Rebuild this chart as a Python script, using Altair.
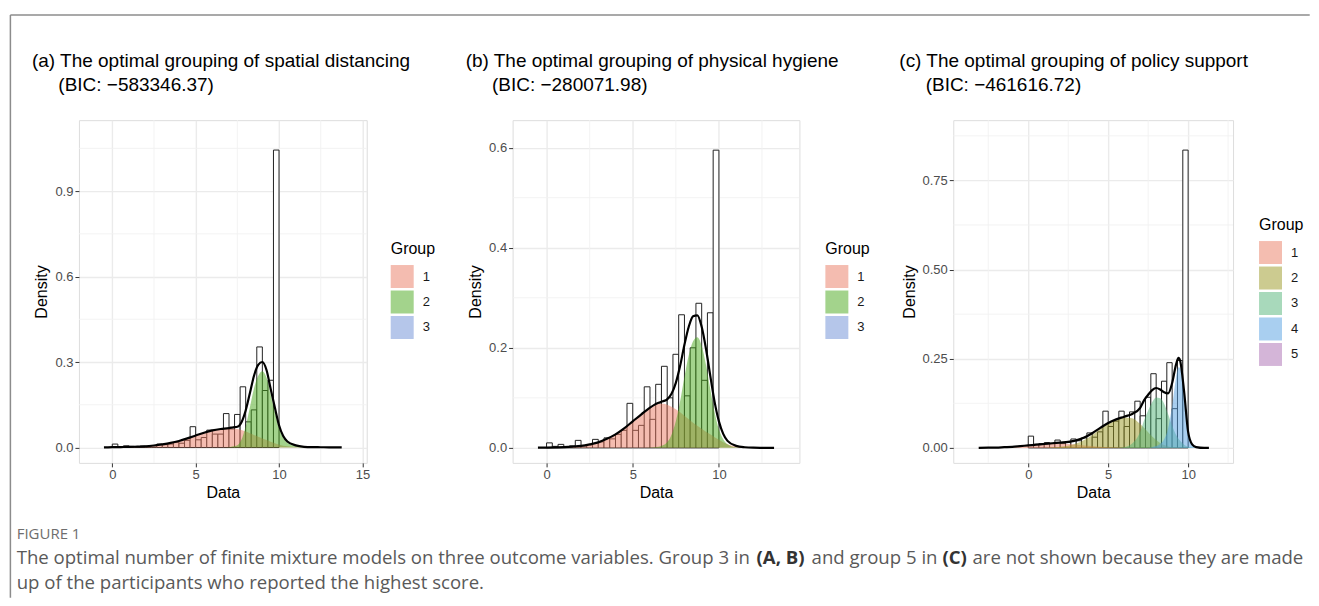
import altair as alt
import pandas as pd

FONT = "Liberation Sans"
CAP_FONT = "Open Sans"

# histogram bins: 30 bins of width 1/3 on [0, 10]
BIN_EDGES = [i / 3 for i in range(31)]

HIST_A = [0.012, 0.003, 0.006, 0.004, 0.003, 0.005, 0.004, 0.006, 0.012, 0.010,
          0.012, 0.018, 0.015, 0.025, 0.073, 0.027, 0.035, 0.061, 0.047, 0.047,
          0.119, 0.065, 0.116, 0.213, 0.090, 0.132, 0.353, 0.200, 0.236, 1.044]
HIST_B = [0.010, 0.003, 0.007, 0.002, 0.004, 0.015, 0.004, 0.006, 0.017, 0.012,
          0.020, 0.018, 0.027, 0.035, 0.089, 0.035, 0.045, 0.122, 0.057, 0.127,
          0.163, 0.100, 0.187, 0.266, 0.104, 0.200, 0.289, 0.135, 0.270, 0.595]
HIST_C = [0.033, 0.010, 0.012, 0.015, 0.012, 0.022, 0.012, 0.015, 0.025, 0.020,
          0.028, 0.042, 0.030, 0.045, 0.103, 0.060, 0.075, 0.103, 0.060, 0.101,
          0.131, 0.090, 0.142, 0.208, 0.082, 0.187, 0.239, 0.110, 0.245, 0.835]

# component densities
X_A = [-0.5, 0, 0.5, 1, 1.5, 2, 2.5, 3, 3.5, 4, 4.5, 5, 5.5, 6, 6.5, 7, 7.25, 7.5,
       7.75, 8, 8.25, 8.5, 8.75, 9, 9.25, 9.5, 9.75, 10, 10.25, 10.5, 11, 11.5, 12,
       12.5, 13, 13.76]
G1_A = [0.0005, 0.001, 0.0015, 0.002, 0.003, 0.004, 0.007, 0.011, 0.016, 0.023,
        0.032, 0.042, 0.052, 0.060, 0.065, 0.067, 0.067, 0.065, 0.061, 0.056,
        0.050, 0.044, 0.038, 0.032, 0.026, 0.020, 0.015, 0.010, 0.006, 0.004,
        0.0015, 0.0005, 0.0002, 0.0001, 0.0, 0.0]
G2_A = [0, 0, 0, 0, 0, 0, 0, 0, 0, 0, 0, 0, 0, 0, 0,
        0.001, 0.004, 0.008, 0.028, 0.074, 0.140, 0.208, 0.252, 0.268, 0.246,
        0.185, 0.125, 0.068, 0.034, 0.017, 0.006, 0.002, 0.001, 0.0008, 0.0006, 0.0004]

X_B = [-0.5, 0, 0.5, 1, 1.5, 2, 2.5, 3, 3.5, 4, 4.5, 5, 5.5, 6, 6.25, 6.5, 6.75, 7,
       7.25, 7.5, 7.75, 8, 8.25, 8.5, 8.75, 9, 9.25, 9.5, 9.75, 10, 10.25, 10.5, 11,
       11.5, 12, 12.5, 13.2]
G1_B = [0.0003, 0.0006, 0.001, 0.0015, 0.0025, 0.004, 0.007, 0.011, 0.018, 0.027,
        0.039, 0.053, 0.067, 0.080, 0.085, 0.088, 0.088, 0.086, 0.082, 0.077,
        0.071, 0.064, 0.057, 0.050, 0.044, 0.038, 0.032, 0.027, 0.021, 0.016,
        0.011, 0.007, 0.003, 0.001, 0.0003, 0.0001, 0.0]
G2_B = [0, 0, 0, 0, 0, 0, 0, 0, 0, 0, 0, 0, 0, 0.0005,
        0.001, 0.002, 0.005, 0.011, 0.026, 0.053, 0.093, 0.142, 0.185, 0.213,
        0.221, 0.204, 0.166, 0.117, 0.071, 0.037, 0.017, 0.007,
        0.001, 0.0002, 0, 0, 0]

X_C = [-3.1, -2.5, -2, -1.5, -1, -0.5, 0, 0.5, 1, 1.5, 2, 2.5, 3, 3.5, 4, 4.5, 5,
       5.5, 6, 6.5, 7, 7.25, 7.5, 7.75, 8, 8.25, 8.5, 8.75, 9, 9.25, 9.4, 9.5, 9.75,
       10, 10.25, 10.5, 11, 11.3]
G1_C = [0.0003, 0.0006, 0.001, 0.002, 0.003, 0.005, 0.007, 0.009, 0.011, 0.012,
        0.012, 0.011, 0.009, 0.007, 0.005, 0.003, 0.002, 0.001, 0.0005, 0.0002,
        0, 0, 0, 0, 0, 0, 0, 0, 0, 0, 0, 0, 0, 0, 0, 0, 0, 0]
G2_C = [0, 0, 0, 0, 0, 0, 0, 0, 0,
        0.001, 0.003, 0.006, 0.012, 0.022, 0.036, 0.053, 0.068, 0.079, 0.085, 0.083,
        0.067, 0.056, 0.044, 0.032, 0.022, 0.014, 0.008, 0.004, 0.002, 0.001,
        0.0005, 0.0003, 0, 0, 0, 0, 0, 0]
G3_C = [0, 0, 0, 0, 0, 0, 0, 0, 0, 0, 0, 0, 0, 0, 0, 0, 0, 0,
        0.002, 0.012,
        0.045, 0.078, 0.105, 0.128, 0.141, 0.139, 0.124, 0.094, 0.062, 0.036,
        0.026, 0.020, 0.009, 0.003, 0.001, 0.0003, 0, 0]
G4_C = [0, 0, 0, 0, 0, 0, 0, 0, 0, 0, 0, 0, 0, 0, 0, 0, 0, 0, 0, 0, 0, 0, 0,
        0.002, 0.005, 0.011, 0.024, 0.055, 0.118, 0.198,
        0.226, 0.224, 0.148, 0.042, 0.009, 0.002, 0, 0]

GROUPS3 = ["1", "2", "3"]
GROUPS5 = ["1", "2", "3", "4", "5"]
COL3 = ["#E97961", "#47A719", "#6B8DD5"]
COL5 = ["#E97B61", "#999721", "#51B377", "#539FE1", "#A96BB1"]

INDENT = "\u200b" + "\u00a0" * 5
TITLE_A = ["(a) The optimal grouping of spatial distancing", INDENT + "(BIC: \u2212583346.37)"]
TITLE_B = ["(b) The optimal grouping of physical hygiene", INDENT + "(BIC: \u2212280071.98)"]
TITLE_C = ["(c) The optimal grouping of policy support", INDENT + "(BIC: \u2212461616.72)"]

FIG_LABEL = "FIGURE 1"
# caption line 1 as (text, bold) pieces, line 2 plain
CAPTION_1 = [
    ("The optimal number of finite mixture models on three outcome variables. Group 3 in", False),
    ("(A, B)", True),
    ("and group 5 in", False),
    ("(C)", True),
    ("are not shown because they are made", False),
]
CAPTION_1_X = [16, 756.4, 811.5, 942.5, 972.5]
CAPTION_2 = "up of the participants who reported the highest score."
CAP_SIZE = 18.6

MINOR = "#F2F2F2"
AXIS_COMMON = dict(grid=True, gridColor="#EBEBEB", gridWidth=1.4, domain=False,
                   tickColor="#333333", tickSize=4, tickWidth=1,
                   labelFont=FONT, labelFontSize=13, labelColor="#4D4D4D",
                   labelPadding=2, labelFlush=False,
                   titleFont=FONT, titleFontSize=16, titleFontWeight="normal",
                   titleColor="#000000")


def build_panel(title_lines, title_dx, hist, xs, comps, groups, colors,
                xdom, ydom, xticks, yticks, yfmt, xminor, yminor,
                legend_x, legend_y, width, height):
    hist_df = pd.DataFrame({"x0": BIN_EDGES[:-1], "x1": BIN_EDGES[1:], "h": hist})
    rows = []
    for g, vals in comps:
        for xv, dv in zip(xs, vals):
            rows.append({"x": xv, "d": dv, "g": g})
    comp_df = pd.DataFrame(rows)
    tot_df = comp_df.groupby("x", as_index=False)["d"].sum()

    xsc = alt.Scale(domain=xdom, nice=False, zero=False)
    ysc = alt.Scale(domain=ydom, nice=False, zero=False)
    xax = alt.Axis(values=xticks, format="d", title="Data", titlePadding=3, **AXIS_COMMON)
    yax = alt.Axis(values=yticks, format=yfmt, title="Density", titlePadding=5, **AXIS_COMMON)

    mx = alt.Chart(pd.DataFrame({"v": xminor})).mark_rule(
        color=MINOR, strokeWidth=0.9).encode(x=alt.X("v:Q", scale=xsc, axis=xax))
    my = alt.Chart(pd.DataFrame({"v": yminor})).mark_rule(
        color=MINOR, strokeWidth=0.9).encode(y=alt.Y("v:Q", scale=ysc, axis=yax))
    bars = alt.Chart(hist_df).mark_rect(fill="white", stroke="#222222", strokeWidth=1).encode(
        x=alt.X("x0:Q", scale=xsc, axis=xax), x2="x1:Q",
        y=alt.Y("h:Q", scale=ysc, axis=yax), y2=alt.datum(0))
    legend = alt.Legend(title="Group", orient="none", legendX=legend_x, legendY=legend_y,
                        direction="vertical", symbolType="square", symbolSize=529,
                        symbolStrokeWidth=0, symbolOpacity=0.5, rowPadding=2.5,
                        labelOffset=9, labelFont=FONT, labelFontSize=13,
                        labelColor="#1A1A1A", titleFont=FONT, titleFontSize=16,
                        titleFontWeight="normal", titleColor="#000000",
                        titlePadding=8, padding=0)
    areas = alt.Chart(comp_df).mark_area(opacity=0.5, interpolate="monotone").encode(
        x=alt.X("x:Q", scale=xsc, axis=xax),
        y=alt.Y("d:Q", scale=ysc, axis=yax, stack=None),
        color=alt.Color("g:N", scale=alt.Scale(domain=groups, range=colors), legend=legend))
    line = alt.Chart(tot_df).mark_line(color="black", strokeWidth=2.2,
                                       interpolate="monotone").encode(
        x=alt.X("x:Q", scale=xsc, axis=xax), y=alt.Y("d:Q", scale=ysc, axis=yax))
    return alt.layer(mx, my, bars, areas, line).properties(
        width=width, height=height,
        title=alt.TitleParams(text=title_lines, anchor="start", frame="group",
                              dx=title_dx, offset=25, fontSize=19, font=FONT,
                              fontWeight="normal", color="#000000", lineHeight=23.5))


pa = build_panel(TITLE_A, -47, HIST_A, X_A, [("1", G1_A), ("2", G2_A)], GROUPS3, COL3,
                 [-2.0, 15.26], [-0.054, 1.149], [0, 5, 10, 15], [0, 0.3, 0.6, 0.9], ".1f",
                 [2.5, 7.5, 12.5], [0.15, 0.45, 0.75, 1.05], 312, 121, 288, 343)
pb = build_panel(TITLE_B, -47, HIST_B, X_B, [("1", G1_B), ("2", G2_B)], GROUPS3, COL3,
                 [-1.97, 14.67], [-0.030, 0.655], [0, 5, 10], [0, 0.2, 0.4, 0.6], ".1f",
                 [2.5, 7.5, 12.5], [0.1, 0.3, 0.5], 313, 121, 287, 343)
pc = build_panel(TITLE_C, -54, HIST_C, X_C,
                 [("1", G1_C), ("2", G2_C), ("3", G3_C), ("4", G4_C)], GROUPS5, COL5,
                 [-4.69, 12.81], [-0.042, 0.919], [0, 5, 10], [0, 0.25, 0.5, 0.75], ".2f",
                 [-2.5, 2.5, 7.5, 12.5], [0.125, 0.375, 0.625, 0.875], 306, 97, 280, 343)

one = pd.DataFrame({"k": [0]})
CLEAR = alt.ViewBackground(stroke="transparent")


def spacer(w):
    return alt.Chart(one).mark_point(opacity=0).encode(
        x=alt.value(0), y=alt.value(0)).properties(width=w, height=1, view=CLEAR)


def text_piece(txt, x, y, size, color, bold=False):
    return alt.Chart(pd.DataFrame({"t": [txt]})).mark_text(
        font=CAP_FONT, fontSize=size, color=color, align="left", baseline="middle",
        fontWeight="bold" if bold else "normal").encode(
        x=alt.value(x), y=alt.value(y), text="t:N")


# caption view sits right of panel (c); its origin is (1233.3, 119) on the page
OX, OY = 1233.3, 119
frame_left = alt.Chart(one).mark_rule(color="#8C8C8C", strokeWidth=1.5).encode(
    x=alt.value(9.7 - OX), y=alt.value(13.7 - OY), y2=alt.value(597 - OY))
frame_top = alt.Chart(one).mark_rule(color="#8C8C8C", strokeWidth=1.5).encode(
    x=alt.value(9.7 - OX), x2=alt.value(1310 - OX), y=alt.value(13.7 - OY))
layers = [frame_left, frame_top,
          text_piece(FIG_LABEL, 16 - OX, 533 - OY, 15, "#6E6E6E")]
for (txt, bold), xp in zip(CAPTION_1, CAPTION_1_X):
    layers.append(text_piece(txt, xp - OX, 557 - OY, CAP_SIZE,
                             "#333333" if bold else "#595959", bold))
layers.append(text_piece(CAPTION_2, 16 - OX, 582 - OY, CAP_SIZE, "#595959"))
caption = alt.layer(*layers).properties(width=1, height=1, view=CLEAR)

chart = alt.hconcat(pa, spacer(146), pb, spacer(153.3), pc, caption,
                    spacing=0, bounds="flush").resolve_scale(
    x="independent", y="independent", color="independent"
).resolve_legend(color="independent").properties(
    padding={"left": 1, "top": 5, "right": 0, "bottom": 0}
).configure_view(stroke="#555555", strokeWidth=1.2).configure(font=FONT)

chart.save("out.html", embed_options={"renderer": "svg", "actions": False})
